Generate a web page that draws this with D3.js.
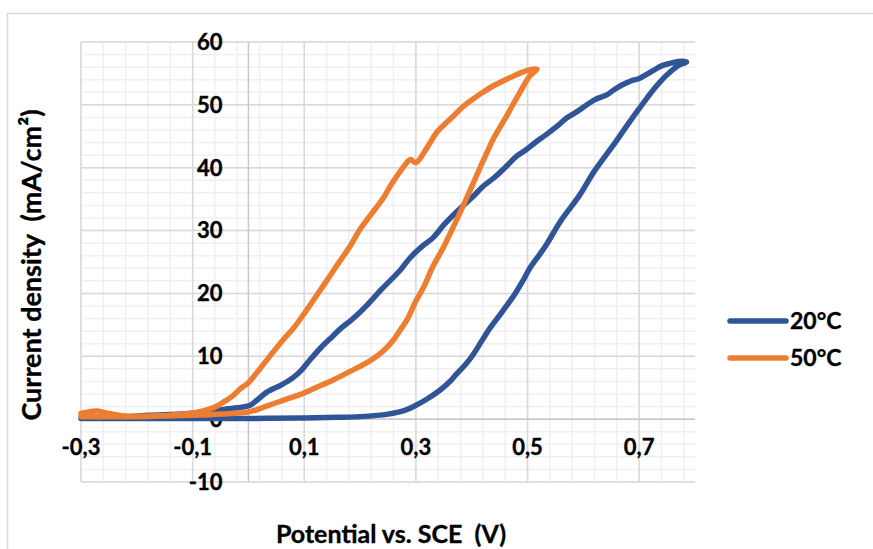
<!DOCTYPE html>
<html>
<head>
<meta charset="utf-8">
<script src="https://cdn.jsdelivr.net/npm/d3@7"></script>
<style>
  body { margin: 0; background: #fff; }
  svg { display: block; font-family: Lato, "Open Sans", sans-serif; font-weight: bold; }
  svg text { white-space: pre; fill: #000; stroke: #000; stroke-width: 0.35px; }
</style>
</head>
<body>
<svg id="chart"></svg>
<script>
// Cyclic voltammetry, potential (V) vs current density (mA/cm2)
const seriesNames = ["20°C", "50°C"];
const seriesColors = ["#2F5597", "#ED7D31"];

const blueV = [-0.30, -0.2, -0.1, 0.0, 0.1, 0.16, 0.2, 0.25, 0.28, 0.30, 0.32, 0.343, 0.36, 0.373, 0.39, 0.402, 0.417, 0.432, 0.448, 0.463, 0.478, 0.491, 0.504, 0.52, 0.534, 0.56, 0.593, 0.62, 0.653, 0.675, 0.695, 0.715, 0.731, 0.75, 0.773, 0.785,
  0.77, 0.755, 0.74, 0.724, 0.70, 0.685, 0.67, 0.655, 0.642, 0.625, 0.611, 0.59, 0.57, 0.553, 0.534, 0.515, 0.498, 0.48, 0.463, 0.44, 0.42, 0.40, 0.373, 0.35, 0.33, 0.31, 0.289, 0.271, 0.24, 0.212, 0.195, 0.182, 0.165, 0.151, 0.13, 0.11, 0.095, 0.08, 0.06, 0.033, 0.015, 0.003, -0.02, -0.04, -0.06, -0.087, -0.12, -0.176, -0.22, -0.26, -0.30];
const blueI = [0.1, 0.1, 0.1, 0.1, 0.2, 0.3, 0.4, 0.8, 1.4, 2.2, 3.2, 4.6, 5.9, 7.2, 8.8, 10.2, 12.3, 14.4, 16.3, 18.1, 20, 21.9, 24, 26, 27.8, 31.6, 35.6, 39.5, 43.5, 46.3, 48.8, 51.2, 53, 54.8, 56.4, 56.8,
  56.9, 56.6, 56.2, 55.4, 54.2, 53.8, 53.2, 52.4, 51.6, 51, 50.3, 49, 47.9, 46.6, 45.3, 44.1, 42.9, 41.8, 40.3, 38.4, 37, 35.2, 33, 30.9, 28.8, 27.4, 25.6, 23.6, 20.8, 18.1, 16.6, 15.6, 14.4, 13.2, 11.4, 9.4, 7.8, 6.6, 5.5, 4.3, 3, 2.2, 1.8, 1.6, 1.3, 1.0, 0.8, 0.6, 0.4, 0.3, 0.3];

const orangeV = [-0.30, -0.25, -0.2, -0.15, -0.1, -0.05, 0.003, 0.03, 0.062, 0.092, 0.123, 0.151, 0.182, 0.2, 0.22, 0.241, 0.259, 0.272, 0.284, 0.30, 0.315, 0.33, 0.348, 0.365, 0.384, 0.40, 0.42, 0.44, 0.463, 0.485, 0.504, 0.517,
  0.505, 0.491, 0.475, 0.456, 0.438, 0.42, 0.405, 0.391, 0.378, 0.366, 0.35, 0.337, 0.32, 0.30, 0.29, 0.28, 0.27, 0.255, 0.241, 0.22, 0.2, 0.182, 0.158, 0.14, 0.123, 0.1, 0.08, 0.062, 0.04, 0.015, 0.0, -0.015, -0.028, -0.045, -0.056, -0.07, -0.087, -0.12, -0.176, -0.22, -0.25, -0.27, -0.285, -0.30];
const orangeI = [0.4, 0.4, 0.4, 0.5, 0.6, 0.8, 1.2, 2.0, 3.0, 3.9, 5.1, 6.2, 7.6, 8.4, 9.4, 10.8, 12.5, 14.2, 15.8, 18.8, 21.2, 24.2, 27.1, 30.2, 33.8, 37, 41, 44.8, 48.3, 51.8, 54.6, 55.7,
  55.6, 55.2, 54.6, 53.8, 53, 52, 51.1, 50.2, 49.2, 48.1, 46.8, 45.6, 43.2, 40.8, 41.3, 40.4, 39.2, 37.2, 35.1, 32.6, 30.2, 27.5, 24.4, 22, 19.8, 16.8, 14.4, 12.6, 10.2, 7.4, 5.8, 4.8, 3.7, 2.7, 2.1, 1.6, 1.2, 0.8, 0.5, 0.5, 0.9, 1.3, 1.2, 0.9];

const xTicks = [-0.3, -0.1, 0.1, 0.3, 0.5, 0.7];
const yTicks = [-10, 0, 10, 20, 30, 40, 50, 60];

const width = 873, height = 549;
const margin = { top: 42, right: 178, bottom: 67, left: 81 };
const plotW = width - margin.left - margin.right;
const plotH = height - margin.top - margin.bottom;

const svg = d3.select("#chart").attr("width", width).attr("height", height);

// outer chart border
svg.append("rect")
  .attr("x", 7.5).attr("y", 13.5)
  .attr("width", width).attr("height", height)
  .attr("fill", "none").attr("stroke", "#d9d9d9").attr("stroke-width", 1.5);

const g = svg.append("g").attr("transform", `translate(${margin.left},${margin.top})`);

const x = d3.scaleLinear().domain([-0.3, 0.8]).range([0, plotW]);
const y = d3.scaleLinear().domain([-10, 60]).range([plotH, 0]);

const commaFmt = d3.formatLocale({ decimal: ",", thousands: ".", grouping: [3], currency: ["", ""], minus: "-" }).format(".1f");

// minor grid
const xMinor = d3.range(-0.3, 0.8001, 0.04);
const yMinor = d3.range(-10, 60.001, 2);
g.append("g").selectAll("line").data(xMinor).join("line")
  .attr("x1", d => x(d)).attr("x2", d => x(d)).attr("y1", 0).attr("y2", plotH)
  .attr("stroke", "#f0f0f0").attr("stroke-width", 1.5);
g.append("g").selectAll("line").data(yMinor).join("line")
  .attr("y1", d => y(d)).attr("y2", d => y(d)).attr("x1", 0).attr("x2", plotW)
  .attr("stroke", "#f0f0f0").attr("stroke-width", 1.5);

// major grid
g.append("g").selectAll("line").data(xTicks).join("line")
  .attr("x1", d => x(d)).attr("x2", d => x(d)).attr("y1", 0).attr("y2", plotH)
  .attr("stroke", "#d9d9d9").attr("stroke-width", 1.5);
g.append("g").selectAll("line").data(yTicks).join("line")
  .attr("y1", d => y(d)).attr("y2", d => y(d)).attr("x1", 0).attr("x2", plotW)
  .attr("stroke", "#d9d9d9").attr("stroke-width", 1.5);

// axes crossing at zero
g.append("line").attr("x1", x(0)).attr("x2", x(0)).attr("y1", 0).attr("y2", plotH)
  .attr("stroke", "#c8c8c8").attr("stroke-width", 1.5);
g.append("line").attr("x1", 0).attr("x2", plotW).attr("y1", y(0)).attr("y2", y(0))
  .attr("stroke", "#c8c8c8").attr("stroke-width", 1.5);

// tick labels
g.append("g").selectAll("text").data(xTicks).join("text")
  .attr("x", d => x(d)).attr("y", y(0) + 36)
  .attr("text-anchor", "middle").attr("font-size", 22)
  .text(d => commaFmt(d));

g.append("g").selectAll("text").data(yTicks).join("text")
  .attr("x", x(0) - 26).attr("y", d => y(d)).attr("dy", "0.36em")
  .attr("text-anchor", "end").attr("font-size", 22)
  .text(d => d);

// series
const series = [
  { name: seriesNames[0], color: seriesColors[0], pts: blueV.map((v, i) => [v, blueI[i]]) },
  { name: seriesNames[1], color: seriesColors[1], pts: orangeV.map((v, i) => [v, orangeI[i]]) }
];

const line = d3.line().x(d => x(d[0])).y(d => y(d[1])).curve(d3.curveCatmullRom.alpha(0.5));

g.selectAll(".series").data(series).join("path")
  .attr("class", "series")
  .attr("fill", "none")
  .attr("stroke", d => d.color)
  .attr("stroke-width", 5.5)
  .attr("stroke-linejoin", "round")
  .attr("stroke-linecap", "round")
  .attr("d", d => line(d.pts));

// axis titles
svg.append("text")
  .attr("x", margin.left + plotW / 2 + 3).attr("y", 543)
  .attr("text-anchor", "middle").attr("font-size", 25)
  .text("Potential vs. SCE  (V)");

svg.append("text")
  .attr("transform", `translate(41, ${margin.top + plotH / 2 + 3}) rotate(-90)`)
  .attr("text-anchor", "middle").attr("font-size", 27)
  .text("Current density  (mA/cm²)");

// legend
const legend = svg.append("g").selectAll("g").data(series).join("g")
  .attr("transform", (d, i) => `translate(730, ${321 + i * 37})`);
legend.append("line")
  .attr("x1", 0).attr("x2", 56).attr("y1", 0).attr("y2", 0)
  .attr("stroke", d => d.color).attr("stroke-width", 5.5).attr("stroke-linecap", "round");
legend.append("text")
  .attr("x", 60).attr("dy", "0.36em").attr("font-size", 23)
  .text(d => d.name);
</script>
</body>
</html>
